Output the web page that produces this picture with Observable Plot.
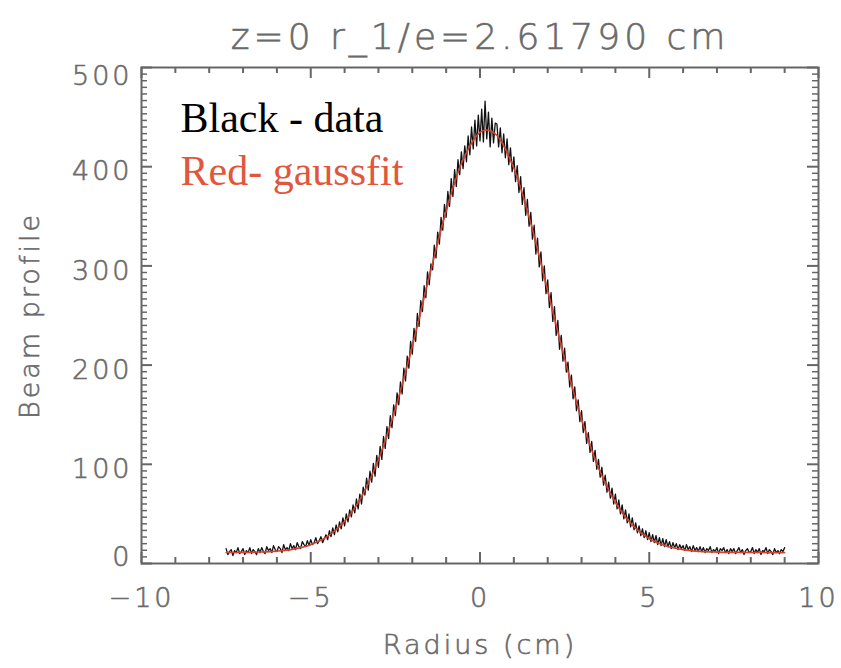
<!DOCTYPE html>
<html>
<head>
<meta charset="utf-8">
<script src="https://cdn.jsdelivr.net/npm/d3@7"></script>
<script src="https://cdn.jsdelivr.net/npm/@observablehq/plot@0.6"></script>
<style>
  html, body { margin: 0; padding: 0; background: #fff; }
  #chart { width: 841px; height: 668px; }
</style>
</head>
<body>
<div id="chart"></div>
<script>
// ---- data ----
const titleText = "z=0 r_1/e=2.61790 cm";
const xLabel = "Radius (cm)";
const yLabel = "Beam profile";
const legendData = "Black - data";
const legendFit = "Red- gaussfit";

// measured beam profile, sampled every 0.05 cm from -7.5 to 9.0
const dataStart = -7.5;
const dataStep = 0.05;
const dataValues = [
  15, 9, 12, 14, 8, 13, 11, 16, 10, 12, 15, 9, 13, 11, 16, 10, 14, 12, 9, 15,
  11, 16, 12, 10, 17, 13, 15, 11, 18, 14, 12, 17, 15, 11, 19, 14, 16, 13, 20, 15,
  18, 14, 21, 17, 15, 22, 19, 17, 23, 18, 24, 19, 21, 26, 20, 23, 27, 21, 25, 29,
  24, 33, 27, 36, 29, 39, 32, 42, 35, 46, 38, 50, 42, 54, 47, 59, 51, 65, 55, 70,
  60, 77, 69, 86, 74, 93, 82, 101, 88, 109, 97, 118, 105, 128, 116, 138, 126, 149, 137, 160,
  149, 172, 160, 183, 171, 197, 184, 209, 197, 224, 211, 237, 224, 252, 239, 265, 254, 280, 268, 294,
  281, 302, 296, 321, 308, 334, 322, 349, 336, 362, 349, 375, 360, 388, 370, 397, 380, 407, 392, 415,
  398, 421, 405, 431, 412, 440, 418, 447, 421, 452, 426, 458, 425, 466, 428, 455, 420, 449, 424, 444,
  443, 420, 439, 414, 433, 409, 428, 402, 419, 395, 410, 385, 401, 374, 390, 362, 379, 351, 367, 340,
  354, 327, 341, 312, 328, 299, 314, 285, 300, 272, 286, 258, 273, 244, 259, 230, 245, 216, 230, 204,
  217, 193, 203, 178, 190, 166, 178, 154, 165, 143, 154, 132, 143, 121, 132, 112, 123, 103, 114, 95,
  105, 87, 97, 79, 89, 72, 82, 66, 76, 60, 70, 55, 64, 50, 59, 45, 54, 41, 50, 37,
  46, 34, 41, 31, 38, 28, 35, 26, 33, 24, 31, 22, 29, 21, 28, 19, 26, 18, 25, 17,
  24, 17, 22, 15, 21, 16, 20, 14, 19, 15, 18, 13, 19, 14, 17, 12, 18, 13, 16, 12,
  17, 12, 16, 11, 15, 13, 17, 11, 14, 12, 16, 10, 15, 13, 16, 11, 14, 10, 15, 12,
  15, 10, 13, 16, 11, 14, 9, 13, 15, 11, 12, 16, 10, 14, 11, 15, 9, 13, 12, 16,
  10, 14, 12, 9, 15, 11, 13, 10, 14, 12, 16
];

// gaussian fit (red)
const fitX = [-7.5,-7,-6.5,-6,-5.5,-5,-4.5,-4,-3.5,-3,-2.5,-2,-1.5,-1,-0.5,0,0.2,0.5,1,1.5,2,2.5,3,3.5,4,4.5,5,5.5,6,6.5,7,7.5,8,8.5,9];
const fitY = [11.1,11.2,11.6,12.5,14.5,18.9,27.3,42.3,67.3,104.8,156,219,289,355,407,434.5,437,431.5,398.5,343,275,206.5,145.5,96.5,61.5,38.7,25,17.6,14,12.2,11.5,11.2,11.1,11,11];

// axes
const xDomain = [-10, 10];
const yDomain = [0, 500];
const xMajorTicks = [-10, -5, 0, 5, 10];
const xMinorTicks = [-9,-8,-7,-6,-4,-3,-2,-1,1,2,3,4,6,7,8,9];
const yMajorTicks = [0, 100, 200, 300, 400, 500];
const yMinorPerMajor = 15;

// ---- build ----
const dataRows = dataValues.map((v, i) => ({x: +(dataStart + i * dataStep).toFixed(2), y: v}));
const fitRows = fitX.map((x, i) => ({x, y: fitY[i]}));
const yMinorTicks = d3.range(0, (yMajorTicks.length - 1) * yMinorPerMajor + 1)
  .filter(i => i % yMinorPerMajor !== 0)
  .map(i => yDomain[0] + i * 100 / yMinorPerMajor);

const W = 841, H = 668;
const mL = 141, mR = 23, mT = 67, mB = 105;
const fw = W - mL - mR, fh = H - mT - mB;
const axisColor = "#666";
const textColor = "#6a6a6a";

const majorLen = 11, minorLen = 6;
const yLabelOpts = {tickSize: 0, tickPadding: 9, label: null, fontSize: 27};

const plot = Plot.plot({
  width: W, height: H,
  marginLeft: mL, marginRight: mR, marginTop: mT, marginBottom: mB,
  x: {domain: xDomain},
  y: {domain: yDomain},
  style: {fontFamily: "'DejaVu Sans', sans-serif", fontSize: "27px", fontWeight: 300, color: textColor, background: "#fff", overflow: "visible"},
  marks: [
    // data + fit
    Plot.line(dataRows, {x: "x", y: "y", stroke: "#111", strokeWidth: 1.3}),
    Plot.line(fitRows, {x: "x", y: "y", stroke: "#d9402e", strokeWidth: 1.6, curve: "catmull-rom"}),
    // ticks (inward, IDL style) bottom / top
    Plot.tickX(xMajorTicks, {x: d => d, insetTop: fh - majorLen, stroke: axisColor, strokeWidth: 2}),
    Plot.tickX(xMinorTicks, {x: d => d, insetTop: fh - minorLen, stroke: axisColor, strokeWidth: 2}),
    Plot.tickX(xMajorTicks, {x: d => d, insetBottom: fh - majorLen, stroke: axisColor, strokeWidth: 2}),
    Plot.tickX(xMinorTicks, {x: d => d, insetBottom: fh - minorLen, stroke: axisColor, strokeWidth: 2}),
    // left / right
    Plot.tickY(yMajorTicks, {y: d => d, insetRight: fw - majorLen, stroke: axisColor, strokeWidth: 2}),
    Plot.tickY(yMinorTicks, {y: d => d, insetRight: fw - minorLen, stroke: axisColor, strokeWidth: 1.5}),
    Plot.tickY(yMajorTicks, {y: d => d, insetLeft: fw - majorLen, stroke: axisColor, strokeWidth: 2}),
    Plot.tickY(yMinorTicks, {y: d => d, insetLeft: fw - minorLen, stroke: axisColor, strokeWidth: 1.5}),
    Plot.frame({stroke: axisColor, strokeWidth: 2}),
    // axes labels
    Plot.axisX({ticks: xMajorTicks, tickSize: 0, tickPadding: 24, label: null, fontSize: 27}),
    Plot.axisY({...yLabelOpts, ticks: yMajorTicks.slice(1, -1), dy: 5}),
    Plot.axisY({...yLabelOpts, ticks: [yMajorTicks[yMajorTicks.length - 1]], dy: 9}),
    Plot.axisY({...yLabelOpts, ticks: [yMajorTicks[0]], dy: -6}),
    Plot.text([xLabel], {frameAnchor: "bottom", textAnchor: "middle", lineAnchor: "middle", dy: 82, text: d => d, fontSize: 27, fill: textColor}),
    Plot.text([yLabel], {frameAnchor: "left", textAnchor: "middle", lineAnchor: "middle", dx: -111, rotate: -90, text: d => d, fontSize: 27, fill: textColor}),
    Plot.text([titleText], {frameAnchor: "top", textAnchor: "middle", lineAnchor: "middle", dy: -30, text: d => d, fontSize: 36, fill: textColor}),
    // legend
    Plot.text([legendData], {frameAnchor: "top-left", textAnchor: "start", lineAnchor: "middle", dx: 39, dy: 51, text: d => d, fontSize: 42, fontWeight: 400, fill: "#000", fontFamily: "'Liberation Serif', 'Times New Roman', serif"}),
    Plot.text([legendFit], {frameAnchor: "top-left", textAnchor: "start", lineAnchor: "middle", dx: 39, dy: 104, text: d => d, fontSize: 42, fontWeight: 400, fill: "#e0573d", fontFamily: "'Liberation Serif', 'Times New Roman', serif"})
  ]
});

// letter spacing and a slight stroke for the IDL-style sans text (not the serif legend)
d3.select(plot).selectAll("text").each(function() {
  const t = this.textContent;
  if (t === legendData || t === legendFit) return;
  const isTitle = t === titleText;
  d3.select(this)
    .style("letter-spacing", isTitle ? "4px" : "3px")
    .style("stroke", textColor)
    .style("stroke-width", "0.6px");
});

document.getElementById("chart").appendChild(plot);
</script>
</body>
</html>
